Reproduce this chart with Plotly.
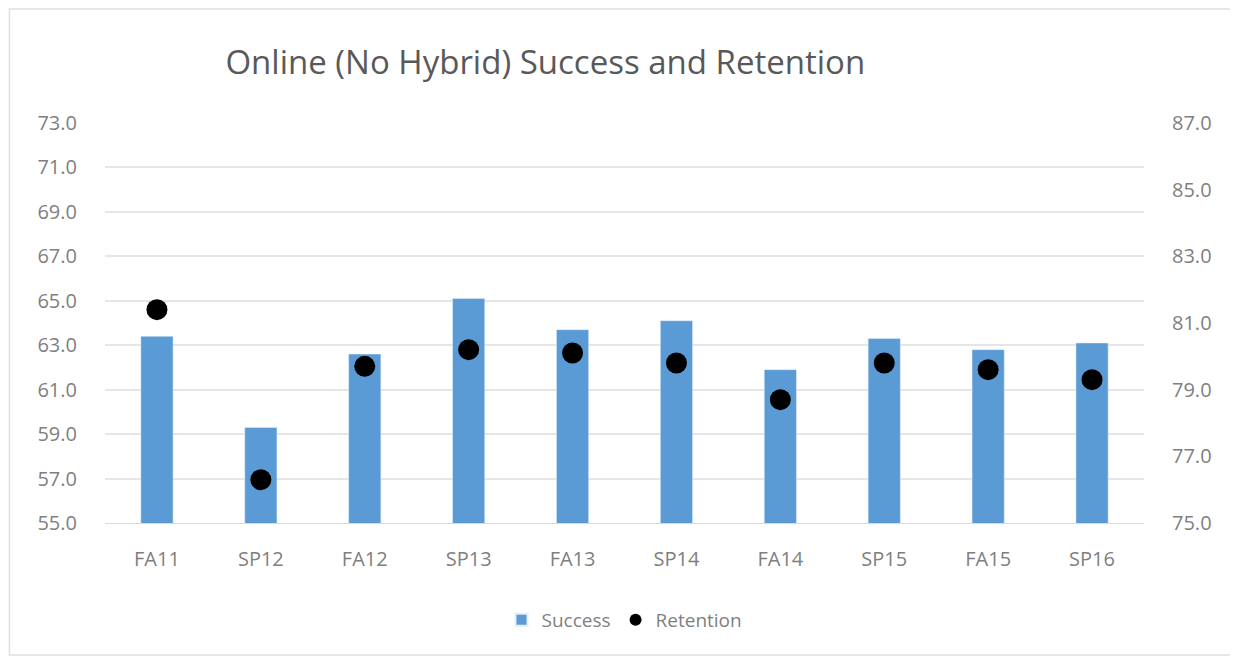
import plotly.graph_objects as go

terms = ["FA11", "SP12", "FA12", "SP13", "FA13", "SP14", "FA14", "SP15", "FA15", "SP16"]
success = [63.4, 59.3, 62.6, 65.1, 63.7, 64.1, 61.9, 63.3, 62.8, 63.1]
retention = [81.4, 76.3, 79.7, 80.2, 80.1, 79.8, 78.7, 79.8, 79.6, 79.3]
left_ticks = [55, 57, 59, 61, 63, 65, 67, 69, 71, 73]
right_ticks = [75, 77, 79, 81, 83, 85, 87]

font_family = "Open Sans, Liberation Sans, sans-serif"
gray = "#7f7f7f"

fig = go.Figure()
fig.add_trace(go.Bar(x=terms, y=success, name="Success", marker_color="#5b9bd5",
                     width=0.31, yaxis="y"))
fig.add_trace(go.Scatter(x=terms, y=retention, name="Retention", mode="markers",
                         marker=dict(color="black", size=21), yaxis="y2"))

fig.update_layout(
    width=1238, height=662,
    margin=dict(l=97, r=102, t=115, b=147),
    paper_bgcolor="white", plot_bgcolor="white",
    font=dict(family=font_family, color=gray, size=18),
    title=dict(text="Online (No Hybrid) Success and Retention", x=0.434, xanchor="center",
               y=1 - 54 / 662, yanchor="middle", yref="container",
               font=dict(size=33, color="#595959", family=font_family)),
    xaxis=dict(range=[-0.5, 9.5], showgrid=False, showline=True, linecolor="#d9d9d9",
               ticks="", ticklabelstandoff=18, tickfont=dict(size=20, color=gray)),
    yaxis=dict(range=[55, 73], tickvals=left_ticks, tickformat=".1f",
               showgrid=True, gridcolor="#e6e6e6", gridwidth=1.5, zeroline=False,
               ticks="", ticklabelstandoff=27, tickfont=dict(size=20, color=gray)),
    yaxis2=dict(range=[75, 87], tickvals=right_ticks, tickformat=".1f", overlaying="y",
                side="right", showgrid=False, zeroline=False, ticks="",
                ticklabelstandoff=27, tickfont=dict(size=20, color=gray)),
    legend=dict(orientation="h", x=0.5, xanchor="center", y=-0.2425, yanchor="middle",
                font=dict(size=19, color=gray), itemwidth=30, itemsizing="constant"),
    bargap=0.69, showlegend=True,
)
fig.add_shape(type="rect", xref="paper", yref="paper", x0=-0.092, x1=1.085, y0=-0.33, y1=1.285,
              line=dict(color="#e0e0e0", width=1.5), layer="below")

fig.write_html("out.html")
